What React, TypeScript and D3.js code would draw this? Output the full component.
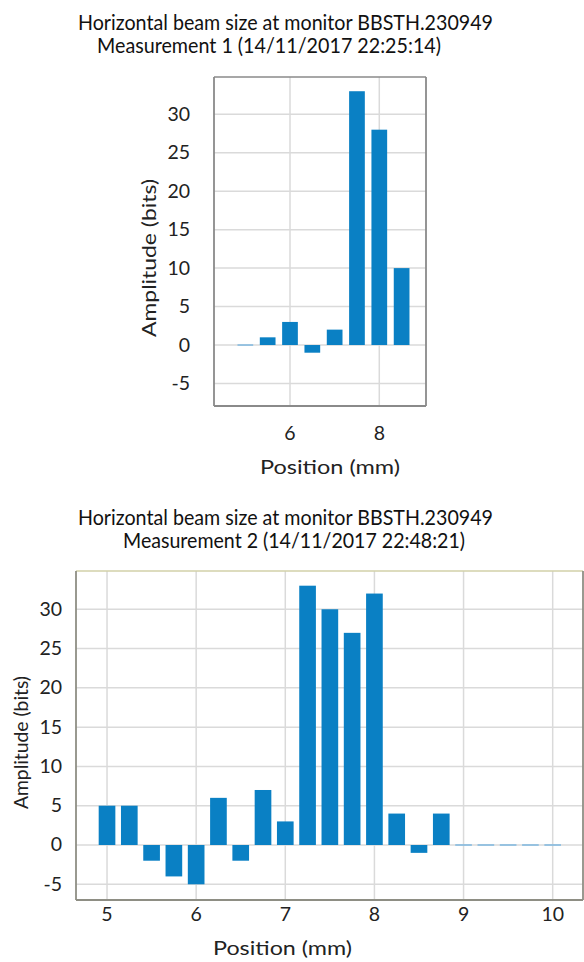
import React from "react";
import * as d3 from "d3";

// ---- data ----
const titleLine = "Horizontal beam size at monitor BBSTH.230949";
const subtitle1 = "Measurement 1 (14/11/2017 22:25:14)";
const subtitle2 = "Measurement 2 (14/11/2017 22:48:21)";
const xLabel = "Position (mm)";
const yLabel = "Amplitude (bits)";

const positions1 = [5.0, 5.5, 6.0, 6.5, 7.0, 7.5, 8.0, 8.5];
const amplitudes1 = [0, 1, 3, -1, 2, 33, 28, 10];

const positions2 = [5.0, 5.25, 5.5, 5.75, 6.0, 6.25, 6.5, 6.75, 7.0, 7.25, 7.5, 7.75, 8.0, 8.25, 8.5, 8.75, 9.0, 9.25, 9.5, 9.75, 10.0];
const amplitudes2 = [5, 5, -2, -4, -5, 6, -2, 7, 3, 33, 30, 27, 32, 4, -1, 4, 0, 0, 0, 0, 0];

const xTicks1 = [6, 8];
const xTicks2 = [5, 6, 7, 8, 9, 10];
const yTicks = [-5, 0, 5, 10, 15, 20, 25, 30];

const FONT = "Lato, 'Open Sans', sans-serif";
const BAR = "#0a80c4";
const ZERO = "#7fb8e0";
const GRID = "#dadada";

type PanelProps = {
  positions: number[];
  values: number[];
  xTicks: number[];
  sub: string;
  frame: { l: number; r: number; t: number; b: number };
  xDomain: [number, number];
  yDomain: [number, number];
  barW: number;
  t1: { x: number; y: number; w: number };
  t2: { x: number; y: number; w: number };
  yTickRight: number;
  xTickBase: number;
  xLab: { cx: number; y: number; w: number };
  yLab: { x: number; cy: number; w: number };
  frameTop: string;
  frameColor: string;
};

function Panel(p: PanelProps) {
  const x = d3.scaleLinear().domain(p.xDomain).range([p.frame.l, p.frame.r]);
  const y = d3.scaleLinear().domain(p.yDomain).range([p.frame.b, p.frame.t]);
  const bw = x(p.xDomain[0] + p.barW) - x(p.xDomain[0]);
  return (
    <g>
      <text x={p.t1.x} y={p.t1.y} fontSize={21} fill="#111" textLength={p.t1.w} lengthAdjust="spacingAndGlyphs">{titleLine}</text>
      <text x={p.t2.x} y={p.t2.y} fontSize={21} fill="#111" textLength={p.t2.w} lengthAdjust="spacingAndGlyphs">{p.sub}</text>
      <rect x={p.frame.l} y={p.frame.t} width={p.frame.r - p.frame.l} height={p.frame.b - p.frame.t} fill="#fff" />
      {yTicks.map((v) => (
        <line key={"gy" + v} x1={p.frame.l} x2={p.frame.r} y1={y(v)} y2={y(v)} stroke={GRID} strokeWidth={1.5} />
      ))}
      {p.xTicks.map((v) => (
        <line key={"gx" + v} x1={x(v)} x2={x(v)} y1={p.frame.t} y2={p.frame.b} stroke={GRID} strokeWidth={1.5} />
      ))}
      {p.positions.map((pos, i) => {
        const v = p.values[i];
        if (v === 0) {
          return <line key={"b" + i} x1={x(pos) - bw / 2} x2={x(pos) + bw / 2} y1={y(0)} y2={y(0)} stroke={ZERO} strokeWidth={1.5} />;
        }
        const y0 = y(Math.max(0, v));
        const y1 = y(Math.min(0, v));
        return <rect key={"b" + i} x={x(pos) - bw / 2} y={y0} width={bw} height={y1 - y0} fill={BAR} />;
      })}
      <line x1={p.frame.l} x2={p.frame.r} y1={p.frame.t} y2={p.frame.t} stroke={p.frameTop} strokeWidth={1.5} />
      <line x1={p.frame.l} x2={p.frame.l} y1={p.frame.t} y2={p.frame.b} stroke={p.frameColor} strokeWidth={1.8} />
      <line x1={p.frame.r} x2={p.frame.r} y1={p.frame.t} y2={p.frame.b} stroke={p.frameColor} strokeWidth={1.8} />
      <line x1={p.frame.l} x2={p.frame.r} y1={p.frame.b} y2={p.frame.b} stroke={p.frameColor} strokeWidth={1.8} />
      {yTicks.map((v) => (
        <text key={"ty" + v} x={p.yTickRight} y={y(v) + 6.5} fontSize={19.5} fill="#222" textAnchor="end">{v}</text>
      ))}
      {p.xTicks.map((v) => (
        <text key={"tx" + v} x={x(v)} y={p.xTickBase} fontSize={19.5} fill="#222" textAnchor="middle">{v}</text>
      ))}
      <text x={p.xLab.cx} y={p.xLab.y} fontSize={20} fill="#222" textAnchor="middle" textLength={p.xLab.w} lengthAdjust="spacingAndGlyphs">{xLabel}</text>
      <text transform={`translate(${p.yLab.x},${p.yLab.cy}) rotate(-90)`} fontSize={20} fill="#222" textAnchor="middle" textLength={p.yLab.w} lengthAdjust="spacingAndGlyphs">{yLabel}</text>
    </g>
  );
}

export default function App() {
  return (
    <svg width={584} height={962} style={{ position: "absolute", left: 0, top: 0, background: "#fff" }} fontFamily={FONT}>
      <rect width={584} height={962} fill="#fff" />
      <Panel
        positions={positions1}
        values={amplitudes1}
        xTicks={xTicks1}
        sub={subtitle1}
        frame={{ l: 214, r: 426, t: 77, b: 406 }}
        xDomain={[4.298, 9.046]}
        yDomain={[-7.93, 34.85]}
        barW={0.352}
        t1={{ x: 78, y: 30, w: 415 }}
        t2={{ x: 97, y: 53, w: 344 }}
        yTickRight={190}
        xTickBase={440}
        xLab={{ cx: 330, y: 474, w: 140 }}
        yLab={{ x: 156, cy: 258, w: 158 }}
        frameTop="#8a8a8a"
        frameColor="#8a8a8a"
      />
      <Panel
        positions={positions2}
        values={amplitudes2}
        xTicks={xTicks2}
        sub={subtitle2}
        frame={{ l: 76, r: 583, t: 571, b: 900 }}
        xDomain={[4.652, 10.34]}
        yDomain={[-7.0, 34.87]}
        barW={0.187}
        t1={{ x: 78, y: 525, w: 415 }}
        t2={{ x: 123, y: 548, w: 342 }}
        yTickRight={62}
        xTickBase={921}
        xLab={{ cx: 282.5, y: 955, w: 139 }}
        yLab={{ x: 28, cy: 742.5, w: 133 }}
        frameTop="#d2d0a8"
        frameColor="#8e8e84"
      />
    </svg>
  );
}
